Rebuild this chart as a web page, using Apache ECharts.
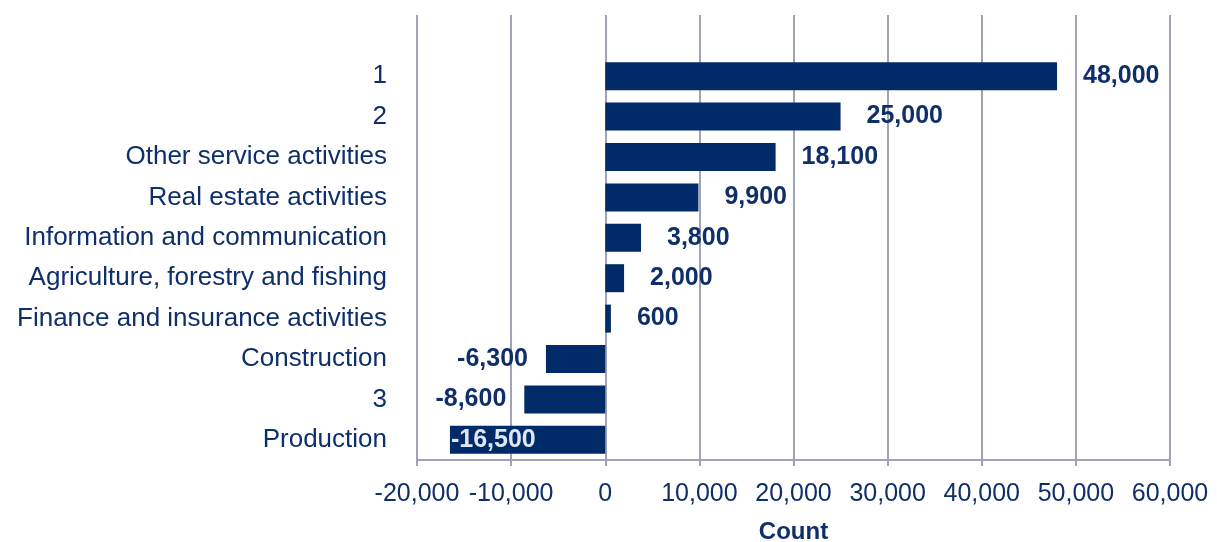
<!DOCTYPE html>
<html>
<head>
<meta charset="utf-8">
<script src="https://cdn.jsdelivr.net/npm/echarts@6/dist/echarts.min.js"></script>
<style>
  html, body { margin: 0; padding: 0; background: #fff; }
  #chart { width: 1217px; height: 542px; }
</style>
</head>
<body>
<div id="chart"></div>
<script>
// categories from top to bottom
const categories = [
    "1",
    "2",
    "Other service activities",
    "Real estate activities",
    "Information and communication",
    "Agriculture, forestry and fishing",
    "Finance and insurance activities",
    "Construction",
    "3",
    "Production"
];
const counts = [48000, 25000, 18100, 9900, 3800, 2000, 600, -6300, -8600, -16500];
const axisMin = -20000;
const axisMax = 60000;
const axisStep = 10000;

const navy = "#002a68";
const textNavy = "#0f2f6b";
const gridGray = "#a2a2b6";
const font = "Liberation Sans, Arial, sans-serif";

const chart = echarts.init(document.getElementById("chart"));

const fmt = (v) => Number(v).toLocaleString("en-US");

const barData = counts.map((v, i) => {
    if (i === counts.length - 1) {
        // the longest negative bar keeps its label inside the bar
        return {
            value: v,
            label: { position: "insideLeft", distance: 1, color: "#dfe6f5" }
        };
    }
    return {
        value: v,
        label: { position: v < 0 ? "left" : "right", distance: v < 0 ? 18 : 26 }
    };
});

const option = {
    animation: false,
    grid: [
        { left: 417, right: 47, top: 56, bottom: 82, outerBoundsMode: "none" },
        // only for the gridlines that run above the bars
        { left: 417, right: 47, top: 15, height: 41, outerBoundsMode: "none" }
    ],
    xAxis: [
        {
            type: "value",
            gridIndex: 0,
            min: axisMin,
            max: axisMax,
            interval: axisStep,
            name: "Count",
            nameLocation: "middle",
            nameGap: 60,
            nameTextStyle: { color: textNavy, fontSize: 24, fontWeight: "bold", fontFamily: font },
            axisLine: { show: true, onZero: false, lineStyle: { color: gridGray, width: 2 } },
            axisTick: { show: true, length: 6, lineStyle: { color: gridGray, width: 2 } },
            axisLabel: {
                color: textNavy,
                fontSize: 25,
                fontFamily: font,
                margin: 22,
                formatter: fmt
            },
            splitLine: { show: true, lineStyle: { color: gridGray, width: 2 } }
        },
        {
            type: "value",
            gridIndex: 1,
            min: axisMin,
            max: axisMax,
            interval: axisStep,
            axisLine: { show: false },
            axisTick: { show: false },
            axisLabel: { show: false },
            splitLine: { show: true, lineStyle: { color: gridGray, width: 2 } }
        }
    ],
    yAxis: [
        {
            type: "category",
            gridIndex: 0,
            data: categories,
            inverse: true,
            axisLine: { show: false, onZero: false },
            axisTick: { show: false },
            axisLabel: {
                color: textNavy,
                fontSize: 26,
                fontFamily: font,
                margin: 30
            }
        },
        {
            type: "value",
            gridIndex: 1,
            show: false
        }
    ],
    series: [
        {
            type: "bar",
            xAxisIndex: 0,
            yAxisIndex: 0,
            data: barData,
            barWidth: 28,
            itemStyle: { color: navy },
            label: {
                show: true,
                color: textNavy,
                fontSize: 25,
                fontWeight: "bold",
                fontFamily: font,
                formatter: (p) => fmt(p.value)
            }
        }
    ]
};

chart.setOption(option);
</script>
</body>
</html>
